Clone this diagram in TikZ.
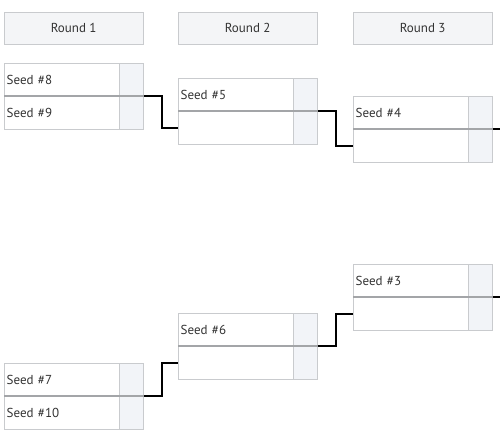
\documentclass[tikz,border=0pt]{standalone}
\usepackage{fontspec}
\newfontfamily\brkfont{PT Sans}
\usepackage{tikz}
\usetikzlibrary{positioning}
\definecolor{boxline}{HTML}{C9CBCE}
\definecolor{headfill}{HTML}{F4F5F7}
\definecolor{scorefill}{HTML}{F2F4F8}
\definecolor{midline}{HTML}{A3A5A8}
\definecolor{seedtext}{HTML}{333333}
\tikzset{
  header/.style={draw=boxline, fill=headfill, anchor=north west, minimum width=139pt, minimum height=32pt, inner sep=0pt, text=seedtext, font=\brkfont\fontsize{13}{15}\selectfont},
  seedslot/.style={draw=boxline, fill=white, minimum height=33pt, text width=110pt, inner xsep=2.5pt, inner ysep=0pt, align=left, text=seedtext, font=\brkfont\fontsize{13}{15}\selectfont},
  scorebox/.style={draw=boxline, fill=scorefill, minimum width=24pt, minimum height=33pt, inner sep=0pt},
  midrule/.style={draw=midline, line width=2pt},
  wire/.style={draw=black, line width=2pt}
}
\begin{document}
\begin{tikzpicture}[x=1pt, y=-1pt]
\useasboundingbox (0,0) rectangle (500,440);
% round titles
\node[header] (r1) at (4,12) {Round 1};
\node[header] (r2) at (178,12) {Round 2};
\node[header] (r3) at (353,12) {Round 3};
% round 1
\node[seedslot, anchor=north west] (m1a) at (4,63) {Seed \#8};
\node[scorebox, right=0pt of m1a] (m1as) {};
\node[seedslot, below=0pt of m1a] (m1b) {Seed \#9};
\node[scorebox, right=0pt of m1b] (m1bs) {};
\draw[midrule] (m1b.north west) -- (m1bs.north east);
\node[seedslot, anchor=north west] (m4a) at (4,363) {Seed \#7};
\node[scorebox, right=0pt of m4a] (m4as) {};
\node[seedslot, below=0pt of m4a] (m4b) {Seed \#10};
\node[scorebox, right=0pt of m4b] (m4bs) {};
\draw[midrule] (m4b.north west) -- (m4bs.north east);
% round 2
\node[seedslot, anchor=north west] (m2a) at (178,78) {Seed \#5};
\node[scorebox, right=0pt of m2a] (m2as) {};
\node[seedslot, below=0pt of m2a] (m2b) {};
\node[scorebox, right=0pt of m2b] (m2bs) {};
\draw[midrule] (m2b.north west) -- (m2bs.north east);
\node[seedslot, anchor=north west] (m5a) at (178,313) {Seed \#6};
\node[scorebox, right=0pt of m5a] (m5as) {};
\node[seedslot, below=0pt of m5a] (m5b) {};
\node[scorebox, right=0pt of m5b] (m5bs) {};
\draw[midrule] (m5b.north west) -- (m5bs.north east);
% round 3
\node[seedslot, anchor=north west] (m3a) at (353,96) {Seed \#4};
\node[scorebox, right=0pt of m3a] (m3as) {};
\node[seedslot, below=0pt of m3a] (m3b) {};
\node[scorebox, right=0pt of m3b] (m3bs) {};
\draw[midrule] (m3b.north west) -- (m3bs.north east);
\node[seedslot, anchor=north west] (m6a) at (353,264) {Seed \#3};
\node[scorebox, right=0pt of m6a] (m6as) {};
\node[seedslot, below=0pt of m6a] (m6b) {};
\node[scorebox, right=0pt of m6b] (m6bs) {};
\draw[midrule] (m6b.north west) -- (m6bs.north east);
% winners move on
\draw[wire] (m1bs.north east) -- ++(18,0) |- (m2b.west);
\draw[wire] (m4bs.north east) -- ++(18,0) |- (m5b.west);
\draw[wire] (m2bs.north east) -- ++(18,0) |- (m3b.west);
\draw[wire] (m5bs.north east) -- ++(18,0) |- (m6b.west);
\draw[wire] (m3bs.north east) -- ++(9,0);
\draw[wire] (m6bs.north east) -- ++(9,0);
\end{tikzpicture}
\end{document}
